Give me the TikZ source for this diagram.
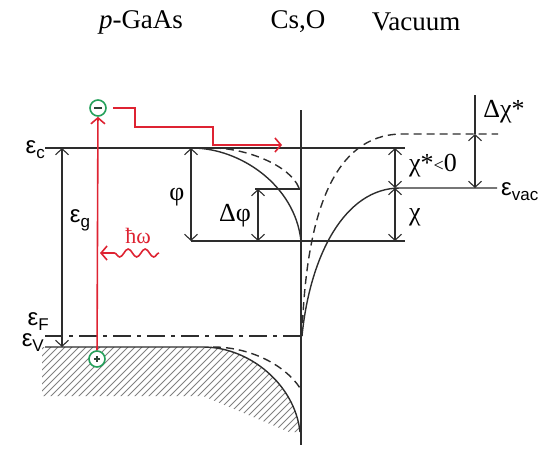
\documentclass[tikz,border=0pt]{standalone}
\usepackage{fontspec}
\setmainfont{Liberation Serif}
\newfontfamily\labelfont{Liberation Sans}
\usetikzlibrary{arrows.meta, positioning, decorations.pathmorphing, calc}
\definecolor{linegray}{RGB}{45,45,45}
\definecolor{photonred}{RGB}{222,35,50}
\definecolor{chargegreen}{RGB}{35,160,90}
\newcommand{\elev}[1]{{\labelfont\fontsize{24}{24}\selectfont ε}\raisebox{-5pt}{\labelfont\fontsize{17}{17}\selectfont #1}}

\begin{document}
\begin{tikzpicture}[
    x=1pt, y=-1pt,
    title/.style={font=\fontsize{27}{27}\selectfont, inner sep=0pt},
    lbl/.style={font=\fontsize{26}{26}\selectfont, inner sep=0pt},
    lvl/.style={line width=1.1pt, color=linegray},
    band/.style={line width=1.4pt, color=linegray},
    dashband/.style={band, dash pattern=on 8pt off 5pt},
    fermi/.style={line width=2.4pt, color=linegray, dash pattern=on 18pt off 6pt on 4pt off 6pt},
    hatch/.style={line width=0.8pt, color=gray},
    arr/.style={{Straight Barb[length=6pt,width=13pt]}-{Straight Barb[length=6pt,width=13pt]}, line width=1.1pt, color=linegray},
    redarr/.style={-{Straight Barb[length=6pt,width=14pt]}, line width=1.6pt, color=photonred},
    charge/.style={circle, draw=chargegreen, fill=white, line width=1.6pt, minimum size=16pt, inner sep=0pt}
]
    \useasboundingbox (0,0) rectangle (554,452);

    % region titles
    \node (gaas) at (141,22) [title] {\textit{p}-GaAs};
    \node (cso) at (298,22) [title] {Cs,O};
    \node (vac) at (416,22) [title] {Vacuum};

    % filled valence band
    \begin{scope}
        \clip (42,347) -- (203,347) .. controls (250,347) and (295,385) .. (300,432) -- (289,432) -- (203,396) -- (42,396) -- cycle;
        \foreach \i in {-80,-73,...,300}
            \draw[hatch] (\i,450) -- ++(120,-120);
    \end{scope}

    % levels and bands
    \draw[lvl] (45,148) -- (405,148);
    \draw[lvl] (191,241) -- (405,241);
    \draw[lvl] (255,189) -- (301,189);
    \draw[lvl] (301,110) -- (301,445);
    \draw[fermi] (45,336) -- (301,336);
    \draw[band] (192,148) .. controls (240,148) and (295,185) .. (301,241);
    \draw[dashband] (213,148) .. controls (245,148) and (290,165) .. (299,188);
    \draw[band] (45,347) -- (203,347) .. controls (250,347) and (295,385) .. (300,432);
    \draw[dashband] (213,347) .. controls (250,347) and (285,365) .. (300,388);
    \draw[band] (302,336) .. controls (310,255) and (345,188) .. (400,188) -- (497,188);
    \draw[dashband] (302,336) .. controls (306,210) and (335,136) .. (400,134) -- (498,134);
    \draw[lvl] (475,95) -- (475,134);

    % level labels
    \node (ec) [anchor=east, inner sep=0pt] at (45,150) {\elev{c}};
    \node (ef) [anchor=east, inner sep=0pt] at (49,322) {\elev{F}};
    \node (ev) [anchor=east, inner sep=0pt] at (44,343) {\elev{V}};
    \node (evac) [anchor=west, inner sep=0pt] at (501,192) {\elev{vac}};
    \node (eg) [inner sep=0pt] at (80,220) {\elev{g}};

    % arrows between levels
    \coordinate (gtop) at (62,148);
    \coordinate (gbot) at (62,347);
    \coordinate (phitop) at (191,148);
    \coordinate (phibot) at (191,241);
    \coordinate (dphitop) at (258,189);
    \coordinate (dphibot) at (258,241);
    \coordinate (chitop) at (395,148);
    \coordinate (chimid) at (395,188);
    \coordinate (chibot) at (395,241);
    \coordinate (dchitop) at (475,134);
    \coordinate (dchibot) at (475,188);
    \draw[arr] (gtop) -- (gbot);
    \draw[arr] (phitop) -- (phibot);
    \draw[arr] (dphitop) -- (dphibot);
    \draw[arr] (chitop) -- (chimid);
    \draw[arr] (chimid) -- (chibot);
    \draw[arr] (dchitop) -- (dchibot);

    \node (phi) [lbl] at (177,197) {φ};
    \node (dphi) [lbl] at (235,216) {Δφ};
    \node (chis) [lbl] at (433,166) {χ*{\fontsize{18}{18}\selectfont <}0};
    \node (chi) [lbl] at (415,217) {χ};
    \node (dchi) [lbl] at (504,112) {Δχ*};

    % excitation and transport of the electron
    \node (hole) [charge] at (97,359) {};
    \node (elec) [charge] at (98,108) {};
    \draw[line width=1.4pt, color=linegray!80!chargegreen] ($(hole.center)+(-3,0)$) -- ($(hole.center)+(3,0)$);
    \draw[line width=1.4pt, color=linegray!80!chargegreen] ($(hole.center)+(0,-3)$) -- ($(hole.center)+(0,3)$);
    \draw[line width=1.6pt, color=linegray!80!chargegreen] ($(elec.center)+(-4,0)$) -- ($(elec.center)+(4,0)$);
    \draw[redarr] (hole) -- (elec);

    \coordinate (s1) at (135,108);
    \coordinate (s2) at (213,127);
    \coordinate (hot) at (282,145);
    \draw[redarr] ($(elec.east)+(6,0)$) -- (s1) |- (s2) |- (hot);

    \coordinate (photon) at (159,253);
    \coordinate (absorb) at (100,253);
    \draw[redarr, decorate, decoration={snake, amplitude=4pt, segment length=17pt, post length=8pt}] (photon) -- (absorb);
    \node (hw) [font=\fontsize{22}{22}\selectfont, text=photonred, inner sep=0pt] at (138,236) {ħω};
\end{tikzpicture}
\end{document}
